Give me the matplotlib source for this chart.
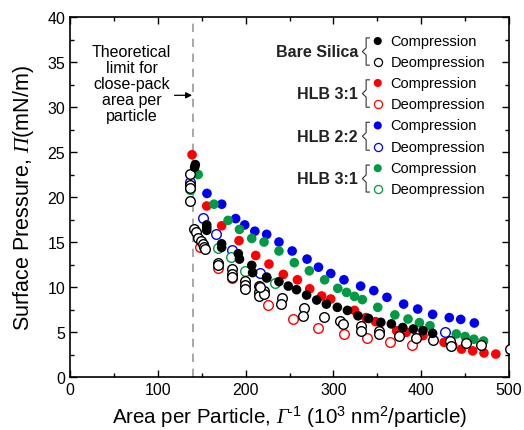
import matplotlib
matplotlib.use("Agg")
import matplotlib.pyplot as plt
import matplotlib.ticker as ticker

plt.rcParams['font.family'] = ['Liberation Sans', 'DejaVu Sans']
plt.rcParams['mathtext.fontset'] = 'custom'
plt.rcParams['mathtext.rm'] = 'Liberation Sans'
plt.rcParams['mathtext.sf'] = 'Liberation Serif:italic'
plt.rcParams['mathtext.it'] = 'Liberation Serif:italic'

# ---- data ----
bare_comp_x = [142, 142.7, 155.7, 155.7, 155.7, 172.7, 172.7, 191.7, 193, 207, 208, 224, 224, 238, 248.6, 258,
               269.5, 281, 292, 304.5, 316, 328, 340, 354, 366, 379, 391, 402, 413]
bare_comp_y = [23.3, 23.6, 16.9, 16.6, 16.3, 14.8, 14.4, 13.7, 13.1, 12.4, 11.6, 11.1, 11.0, 10.6, 10.1, 9.7,
               9.1, 8.55, 8.1, 7.74, 7.4, 6.8, 6.5, 6.07, 5.9, 5.5, 5.33, 5.15, 4.85]
bare_dec_x = [136.7, 136.7, 136.7, 136.7, 141.6, 143.5, 146, 148.8, 151, 152.6, 153.5, 169, 169, 184, 184, 184,
              199, 199, 199, 215.6, 215.6, 215.6, 221, 221, 216, 241, 240, 266.5, 265.7, 289, 308, 310.5,
              332, 332, 352, 352, 375, 393.7, 413, 433, 434, 450.6, 467.7, 501]
bare_dec_y = [22.6, 21.3, 21.0, 19.6, 16.5, 16.1, 15.5, 15.15, 14.8, 14.4, 14.2, 12.67, 12.4, 12.0, 11.5, 11.1,
              10.7, 10.2, 9.8, 10.1, 9.5, 9.0, 9.6, 9.2, 10.0, 8.74, 8.1, 7.63, 6.8, 6.63, 6.26, 5.9,
              5.7, 5.15, 5.15, 4.8, 4.6, 4.3, 4.1, 4.04, 3.5, 3.74, 3.55, 3.1]

hlb31_comp_x = [139, 155.7, 172.7, 192.5, 211.5, 226.6, 243, 259, 273, 286.6, 297, 324, 337, 348, 372, 383,
                402, 426, 436, 446, 458.6, 471.5, 485]
hlb31_comp_y = [24.7, 19.0, 16.8, 15.15, 13.5, 12.55, 11.4, 10.8, 9.8, 9.0, 8.67, 7.4, 6.6, 6.15, 5.15, 4.96,
                4.6, 3.85, 3.5, 3.1, 2.9, 2.67, 2.55]
hlb31_dec_x = [148, 169, 184, 226, 253.6, 282, 312, 338, 365, 390]
hlb31_dec_y = [14.4, 12.07, 11.0, 7.95, 6.5, 5.5, 4.8, 4.3, 3.93, 3.55]

hlb22_comp_x = [156, 172.8, 188.7, 199, 210.5, 224, 238, 253, 270, 283, 297, 312, 331, 346, 361, 380, 396,
                413, 432, 445, 460.5]
hlb22_comp_y = [20.4, 19.2, 17.6, 16.9, 16.2, 15.85, 15.0, 14.0, 13.1, 12.2, 11.5, 10.8, 10.1, 9.6, 8.85,
                8.1, 7.55, 6.96, 6.6, 6.4, 6.0]
hlb22_dec_x = [137, 151.5, 166.5, 184, 216, 427]
hlb22_dec_y = [21.7, 17.65, 15.9, 14.15, 11.55, 4.96]

hlb31b_comp_x = [146, 164, 180, 193, 207, 221, 238, 255.5, 272.6, 290, 305, 315, 324, 333, 350.5, 370, 385,
                 398, 410, 440, 450, 460, 471]
hlb31b_comp_y = [22.5, 19.2, 17.4, 16.4, 15.4, 15.0, 14.0, 12.7, 11.8, 10.8, 9.85, 9.4, 8.96, 8.6, 7.74, 6.9,
                 6.44, 6.04, 5.7, 4.78, 4.5, 4.2, 4.0]
hlb31b_dec_x = [137, 168.5, 183.5, 199, 233]
hlb31b_dec_y = [20.85, 14.35, 13.3, 11.8, 10.4]

red = '#ff0000'
blue = '#0000f0'
green = '#009a44'

fig = plt.figure(figsize=(5.24, 4.31), dpi=100)
ax = fig.add_axes([70 / 524, 1 - 378 / 431, 439 / 524, 360 / 431])

ms = 48
lw_open = 1.0
# decompression (open) first, then compression (filled), black on top
ax.scatter(hlb31_dec_x, hlb31_dec_y, s=ms, facecolors='white', edgecolors=red, linewidths=lw_open, zorder=3)
ax.scatter(hlb22_dec_x, hlb22_dec_y, s=ms, facecolors='white', edgecolors=blue, linewidths=lw_open, zorder=3)
ax.scatter(hlb31b_dec_x, hlb31b_dec_y, s=ms, facecolors='white', edgecolors=green, linewidths=lw_open, zorder=3)
ax.scatter(hlb31_comp_x, hlb31_comp_y, s=ms, color=red, edgecolors='none', zorder=4)
ax.scatter(hlb22_comp_x, hlb22_comp_y, s=ms, color=blue, edgecolors='none', zorder=4)
ax.scatter(hlb31b_comp_x, hlb31b_comp_y, s=ms, color=green, edgecolors='none', zorder=4)
ax.scatter(bare_dec_x, bare_dec_y, s=ms, facecolors='white', edgecolors='black', linewidths=lw_open, zorder=5)
ax.scatter(bare_comp_x, bare_comp_y, s=ms, color='black', edgecolors='none', zorder=6)

# close-pack limit
ax.axvline(140, color='#999999', linestyle=(0, (5, 4)), linewidth=1.2, zorder=1)
ax.annotate('', xy=(139, 31.3), xytext=(119, 31.3),
            arrowprops=dict(arrowstyle='-|>', color='black', lw=0.9, mutation_scale=9,
                            shrinkA=0, shrinkB=0))
ax.text(70, 32.6, 'Theoretical\nlimit for\nclose-pack\narea per\nparticle', ha='center', va='center',
        fontsize=11.5, linespacing=1.08)

ax.set_xlim(0, 500)
ax.set_ylim(0, 40)
ax.xaxis.set_major_locator(ticker.MultipleLocator(100))
ax.xaxis.set_minor_locator(ticker.MultipleLocator(50))
ax.yaxis.set_major_locator(ticker.MultipleLocator(5))
ax.yaxis.set_minor_locator(ticker.MultipleLocator(2.5))
ax.tick_params(which='both', direction='in', top=True, right=True, labelsize=11.5, width=1)
ax.tick_params(which='major', length=5)
ax.tick_params(which='minor', length=3)
for s in ax.spines.values():
    s.set_linewidth(1.2)
ax.set_xlabel('Area per Particle, $\\mathsf{\\Gamma}^{\\mathrm{\u2010}1}$ (10$^{3}$ nm$^{2}$/particle)',
              fontsize=14.8, labelpad=5)
ax.set_ylabel(r'Surface Pressure, $\mathsf{\Pi}$(mN/m)', fontsize=15.5, labelpad=8)

# legend with group braces
groups = ['Bare Silica', 'HLB 3:1', 'HLB 2:2', 'HLB 3:1']
group_colors = ['black', red, blue, green]
row_y = [37.33, 35.0, 32.67, 30.33, 27.95, 25.55, 23.2, 20.9]
for i in range(4):
    yt = row_y[2 * i]
    yb = row_y[2 * i + 1]
    c = group_colors[i]
    ax.scatter([350.5], [yt], s=34, color=c, edgecolors='none', zorder=6)
    ax.scatter([350.5], [yb], s=34, facecolors='white', edgecolors=c, linewidths=0.9, zorder=6)
    ax.text(365, yt, 'Compression', fontsize=10.5, va='center', ha='left')
    ax.text(365, yb, 'Deompression', fontsize=10.5, va='center', ha='left')
    ym = (yt + yb) / 2
    ax.plot([341, 337.3, 337.3, 333, 337.3, 337.3, 341],
            [yt + 0.35, yt + 0.35, ym + 0.4, ym, ym - 0.4, yb - 0.35, yb - 0.35],
            color='#333333', lw=0.8, zorder=6)
    ax.text(328, ym, groups[i], fontsize=11.5, fontweight='bold', va='center', ha='right', color='#222222')

fig.savefig('out.png', dpi=100)
